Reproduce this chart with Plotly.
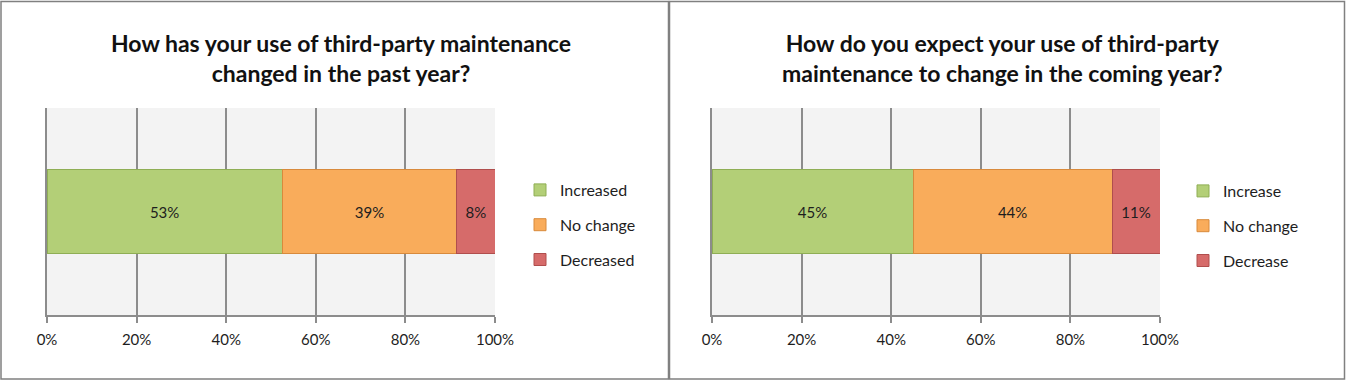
import plotly.graph_objects as go

# ---- data ----
left_title = "How has your use of third-party maintenance<br>changed in the past year?"
left_categories = ["Increased", "No change", "Decreased"]
left_values = [52.5, 39.0, 8.5]
left_labels = ["53%", "39%", "8%"]

right_title = "How do you expect your use of third-party<br>maintenance to change in the coming year?"
right_categories = ["Increase", "No change", "Decrease"]
right_values = [44.9, 44.4, 10.7]
right_labels = ["45%", "44%", "11%"]

tick_values = [0, 20, 40, 60, 80, 100]
tick_labels = ["0%", "20%", "40%", "60%", "80%", "100%"]

colors = ["#B3CF77", "#F9AC5B", "#D66B6A"]
edge_colors = ["#8FAE55", "#D88A3C", "#B04E4D"]

W, H = 1346, 381
FONT = "Lato"

fig = go.Figure()

def add_panel(cats, vals, labels, xa, ya, legend):
    for i, (c, v, t) in enumerate(zip(cats, vals, labels)):
        fig.add_trace(go.Bar(
            y=["q"], x=[v], orientation="h", name=c,
            text=[t], textposition="inside", insidetextanchor="middle",
            textangle=0, constraintext="none",
            textfont=dict(family=FONT, size=15, color="#1e1e1e"),
            marker=dict(color=colors[i], line=dict(color=edge_colors[i], width=1)),
            width=0.41, xaxis=xa, yaxis=ya, legend=legend,
            legendgroup=legend + str(i), hoverinfo="skip",
        ))

add_panel(left_categories, left_values, left_labels, "x", "y", "legend")
add_panel(right_categories, right_values, right_labels, "x2", "y2", "legend2")

ydom = [1 - 315 / H, 1 - 108 / H]
xcommon = dict(range=[0, 100], tickvals=tick_values, ticktext=tick_labels,
               showgrid=True, gridcolor="#8C8C8C", gridwidth=1.5,
               showline=True, linecolor="#8C8C8C", linewidth=1.5,
               ticks="outside", ticklen=6, tickcolor="#8C8C8C", tickwidth=1.5,
               ticklabelstandoff=4,
               tickfont=dict(family=FONT, size=15, color="#1e1e1e"),
               zeroline=False, fixedrange=True)
ycommon = dict(showticklabels=False, showgrid=False, zeroline=False,
               showline=True, linecolor="#8C8C8C", linewidth=1.5,
               range=[-0.5, 0.5], fixedrange=True)

legend_common = dict(font=dict(family=FONT, size=16, color="#1e1e1e"),
                     traceorder="grouped", tracegroupgap=11,
                     bgcolor="rgba(0,0,0,0)", yanchor="top", xanchor="left",
                     itemwidth=30)

fig.update_layout(
    width=W, height=H, autosize=False,
    margin=dict(l=0, r=0, t=0, b=0, autoexpand=False),
    paper_bgcolor="white", plot_bgcolor="#F3F3F3",
    barmode="stack", showlegend=True,
    xaxis=dict(domain=[47 / W, 495 / W], anchor="y", **xcommon),
    yaxis=dict(domain=ydom, anchor="x", **ycommon),
    xaxis2=dict(domain=[712 / W, 1160 / W], anchor="y2", **xcommon),
    yaxis2=dict(domain=ydom, anchor="x2", **ycommon),
    legend=dict(x=520 / W, y=1 - 173 / H, **legend_common),
    legend2=dict(x=1183 / W, y=1 - 174 / H, **legend_common),
    annotations=[
        dict(text="<b>" + left_title + "</b>", x=341 / W, y=1 - 58 / H,
             xref="paper", yref="paper", showarrow=False, xanchor="center", yanchor="middle",
             font=dict(family=FONT, size=23, color="#111111")),
        dict(text="<b>" + right_title + "</b>", x=1002 / W, y=1 - 58 / H,
             xref="paper", yref="paper", showarrow=False, xanchor="center", yanchor="middle",
             font=dict(family=FONT, size=23, color="#111111")),
    ],
    shapes=[
        dict(type="rect", xref="paper", yref="paper", x0=1 / W, x1=668.5 / W, y0=1 - 379 / H, y1=1 - 1.5 / H,
             line=dict(color="#808080", width=1.5), layer="above"),
        dict(type="rect", xref="paper", yref="paper", x0=669.5 / W, x1=1344.5 / W, y0=1 - 379 / H, y1=1 - 1.5 / H,
             line=dict(color="#808080", width=1.5), layer="above"),
    ],
)

fig.write_html(
    "out.html",
    config={"responsive": False, "displayModeBar": False},
    post_script="document.body.style.margin='0';document.body.style.overflow='hidden';",
)
